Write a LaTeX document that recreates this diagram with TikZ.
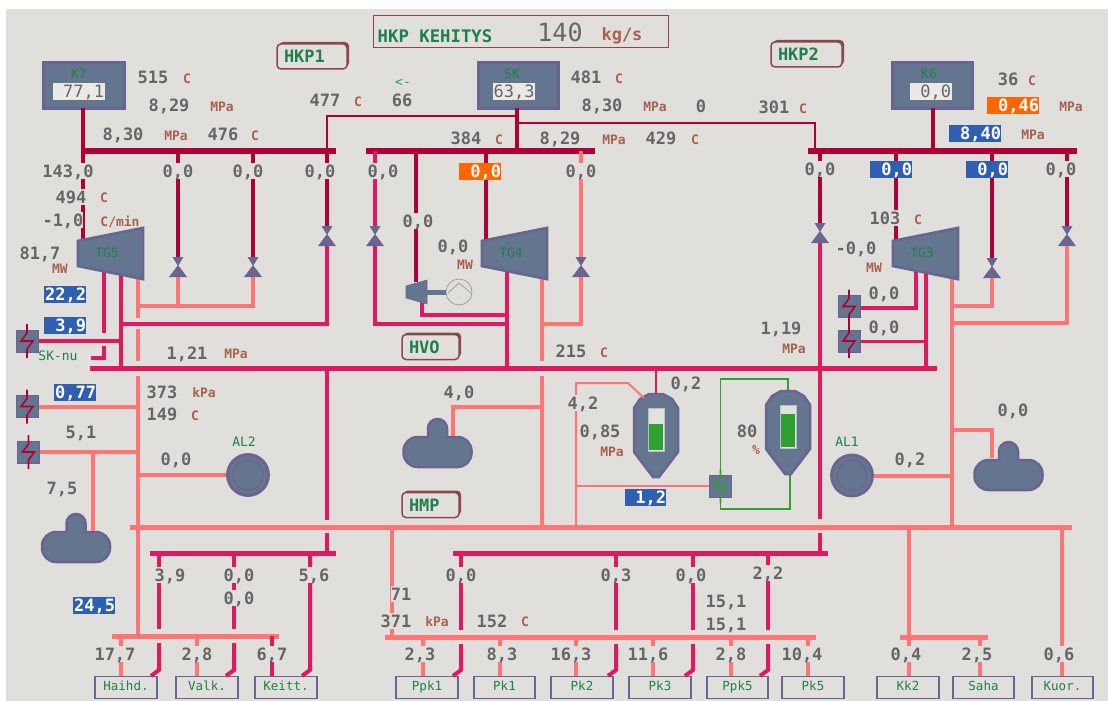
\documentclass[tikz,border=0pt]{standalone}
\usepackage{fontspec}
\setmainfont{DejaVu Sans Mono}
\usetikzlibrary{calc, shadows}
\definecolor{panel}{HTML}{E0DFDC}
\definecolor{hpred}{HTML}{B00038}
\definecolor{mpred}{HTML}{E0185F}
\definecolor{lpred}{HTML}{FF7575}
\definecolor{devfill}{HTML}{64768F}
\definecolor{devedge}{HTML}{6A6490}
\definecolor{valgray}{HTML}{666666}
\definecolor{unitbrown}{HTML}{A8614D}
\definecolor{namegreen}{HTML}{208048}
\definecolor{levelgreen}{HTML}{30A030}
\definecolor{flagblue}{HTML}{2E5FB0}
\definecolor{flagorange}{HTML}{FF6600}
\definecolor{tagedge}{HTML}{8B4650}
\tikzset{
  devname/.style={font=\fontsize{13}{14}\selectfont, text=namegreen, inner sep=0pt},
  turbine/.pic={
    \draw[devedge, fill=devfill, line width=2.8] (0,0) -- (65,-13) -- (65,38) -- (0,25) -- cycle;
    \node[devname] (-lab) at (29,12) {\tikzpictext};
  },
  heater/.pic={
    \node[fill=devfill, draw=devedge, line width=1, minimum size=22, inner sep=0pt] (-box) {};
    \draw[pic actions, line width=1.6] (0,-17) -- (0,-8) -- (-6,0) -- (6,0) -- (0,8) -- (0,17);
  },
  drum/.pic={
    \draw[devedge, fill=devfill, line width=2.5] (-9.5,18) [rounded corners=9.5] -- (-9.5,0) -- (9.5,0)
      [sharp corners] -- (9.5,18) [rounded corners=14] -- (34,18) -- (34,48) -- (-34,48) -- (-34,18)
      [sharp corners] -- cycle;
  },
  vessel/.pic={
    \draw[devedge, fill=devfill, line width=2.5] (-7,0) -- (7,0) -- (16,5) -- (22,14) -- (22,58) -- (3,83)
      -- (-3,83) -- (-22,58) -- (-22,14) -- (-16,5) -- cycle;
    \fill[panel!95!white, draw=panel!70!devfill] (-8,14) rectangle (8,57);
    \fill[levelgreen] (-7,#1) rectangle (7,56);
    \coordinate (-top) at (0,0);
    \coordinate (-tip) at (0,83);
  }
}
\begin{document}
\begin{tikzpicture}[
  x=1pt, y=-1pt,
  hdrh/.style={hpred, line width=5.5},
  hdrm/.style={mpred, line width=5},
  hdrl/.style={lpred, line width=5},
  hp/.style={hpred, line width=4},
  mp/.style={mpred, line width=4},
  lp/.style={lpred, line width=4},
  hpthin/.style={hpred, line width=1.8},
  mpthin/.style={mpred, line width=2},
  lpthin/.style={lpred, line width=2},
  valve/.style={minimum width=18, minimum height=20, inner sep=0pt, path picture={
    \fill[devedge, shift={(path picture bounding box.center)}]
      (-5.5,-10) -- (5.5,-10) -- (0,-1) -- cycle (-9,10) -- (9,10) -- (0,-2) -- cycle;}},
  val/.style={font=\fontsize{17}{18}\selectfont\bfseries, text=valgray, fill=panel,
    inner xsep=0pt, inner ysep=1pt, text height=13, text depth=1},
  flag/.style={font=\fontsize{17}{18}\selectfont\bfseries, text=white, inner sep=0pt,
    text width=#1, align=right, minimum height=17, text height=13, text depth=1},
  unit/.style={font=\fontsize{13}{14}\selectfont\bfseries, text=unitbrown, inner sep=0pt},
  boiler/.style={fill=devfill, draw=devedge, line width=3, minimum height=45, inner sep=0pt},
  readout/.style={fill=panel!70!white, font=\fontsize{17}{18}\selectfont, text=valgray,
    minimum height=17, text height=13, text depth=1, inner sep=0pt, align=right},
  tag/.style={draw=tagedge, fill=panel, line width=1.5, rounded corners=4, minimum height=25,
    inner xsep=7, inner ysep=0pt, align=left,
    font=\fontsize{17}{18}\selectfont\bfseries, text=namegreen,
    general shadow={fill=tagedge, shadow xshift=2, shadow yshift=-2}},
  unitbox/.style={draw=devedge, line width=1.2, minimum width=60, minimum height=22, inner sep=0pt,
    text height=9, text depth=3, font=\fontsize{12.5}{14}\selectfont, text=namegreen},
  pumpc/.style={circle, fill=devfill, draw=devedge, line width=2.8, minimum size=41, inner sep=0pt,
    path picture={\draw[devedge, line width=1.3] (path picture bounding box.center) circle (15);}}
]
\useasboundingbox (0,0) rectangle (1108,701);
\fill[panel] (6,9) rectangle (1108,701);
\node[draw=tagedge, line width=1.5, minimum width=295, minimum height=32, inner sep=0pt] (kehitys) at (521,31.5) {};
\node[font=\fontsize{17.3}{18}\selectfont\bfseries, text=namegreen, inner sep=0pt] (kehname) at (435,36) {HKP KEHITYS};
\node[font=\fontsize{25}{26}\selectfont, text=valgray, inner sep=0pt] (kehval) at (560,32) {140};
\node[font=\fontsize{17}{18}\selectfont\bfseries, text=unitbrown, inner sep=0pt] (kehunit) at (622,36) {kg/s};

\node[boiler, minimum width=81] (k7) at (84,85.5) {};
\node[boiler, minimum width=80] (sk) at (518.5,85.5) {};
\node[boiler, minimum width=80] (k6) at (932.5,85.5) {};

\draw[hpthin] (327,151) -- (327,116) -- (517,116);
\draw[hpthin] (517,123) -- (815,123) -- (815,151);
\draw[hdrh] (83,151) coordinate (hpa) -- (336,151);
\draw[hdrh] (366,151) coordinate (hpb) -- (595,151);
\draw[hdrh] (808,151) coordinate (hpc) -- (1077,151);
\draw[hdrm] (90,368) coordinate (mph) -- (937,368);
\draw[hdrl] (130,527) coordinate (lph) -- (1072,527);
\draw[hdrm] (150,553) coordinate (mpl) -- (336,553);
\draw[hdrm] (453,553) coordinate (mpr) -- (828,553);
\draw[hdrl] (112,636) coordinate (lpa) -- (279,636);
\draw[hdrl] (385,637) coordinate (lpb) -- (816,637);
\draw[hdrl] (900,637) coordinate (lpc) -- (988,637);

\draw[hp] (83,108) -- (83,240);
\draw[hp] (517,108) -- (517,151);
\draw[hp] (933,108) -- (933,151);

\foreach \i/\x/\y in {1/178/267, 2/253/267, 3/327/236, 4/375/236, 5/581/267, 6/820/233, 7/992/268, 8/1067/236}
  \node[valve] (v\i) at (\x,\y) {};

\foreach \i in {1,2,3,6,7,8}
  \draw[hp] (v\i.north |- hpa) -- (v\i.north);
\draw[mp] (v4.north |- hpb) -- (v4.north);
\draw[lp] (v5.north |- hpb) -- (v5.north);
\draw[lp] (v1.south) -- (v1.south |- 0,306);
\draw[lp] (138,306) -- (253,306) -- (v2.south);
\draw[mp] (v3.south) -- (327,324) -- (121,324);
\draw[mp] (v4.south) -- (375,324) -- (507,324);
\draw[lp] (v5.south) -- (581,324) -- (542,324);
\draw[mp] (v6.south) -- (820,519);
\draw[mp] (820,533) -- (820,553);
\draw[lp] (952,306) -- (992,306) -- (v7.south);
\draw[lp] (952,323) -- (1067,323) -- (v8.south);

\draw[hp] (486,151) -- (486,242);
\draw[hp] (416,151) -- (416,282);
\draw[hp] (896,151) -- (896,242);

\draw[mp] (104,270) -- (104,333);
\draw[mp] (104,346) -- (104,358) -- (91,358);
\draw[mp] (121,275) -- (121,368);
\draw[mp] (507,272) -- (507,368);
\draw[mp] (422,300) -- (422,315) -- (507,315);
\draw[mp] (327,368) -- (327,520);
\draw[mp] (327,533) -- (327,553);
\draw[mp] (916,268) -- (916,308) -- (860,308);
\draw[mp] (926,272) -- (926,368);

\draw[lp] (138,279) -- (138,318);
\draw[lp] (138,329) -- (138,361);
\draw[lp] (138,376) -- (138,636);
\draw[lp] (542,279) -- (542,361);
\draw[lp] (542,376) -- (542,527);
\draw[lp] (952,279) -- (952,527);

\pic[pic text=TG5] (tg5) at (78,241) {turbine};
\pic[pic text=TG4] (tg4) at (482,241) {turbine};
\pic[pic text=TG3] (tg3) at (893,241) {turbine};

\pic[draw=hpred] (hx1) at (27,341) {heater};
\pic[draw=hpred] (hx2) at (27,406.5) {heater};
\pic[draw=hpred] (hx3) at (28.5,452) {heater};
\pic[draw=hpred] (hx4) at (849,306.5) {heater};
\pic[draw=hpred] (hx5) at (849,341) {heater};
\draw[hpred, line width=1.6] (hx4-box) -- (hx5-box);
\draw[mp] (hx1-box.east) -- (121,341);
\draw[lp] (hx2-box.east) -- (138,406.5);
\draw[lp] (hx3-box.east) -- (138,452);
\draw[mpthin, line width=3] (hx5-box.east) -- (926,341);

\pic (drl) at (76,514) {drum};
\pic (drm) at (437.5,419) {drum};
\pic (drr) at (1008.5,442) {drum};
\draw[lp] (93,452) -- (93,531);
\draw[lp] (453,436) -- (453,407) -- (542,407);
\draw[lp] (992,458) -- (992,430) -- (952,430);

\node[pumpc] (al2) at (248,475) {};
\node[pumpc] (al1) at (852,475.5) {};
\draw[lp] (138,0 |- al2) -- (al2.west);
\draw[lp] (al1.east) -- (952,0 |- al1);

\fill[devfill, draw=devedge, line width=0.6] (406,286) -- (427,280) -- (427,304) -- (406,298) -- cycle;
\node[circle, draw=gray!80, line width=0.7, minimum size=26, inner sep=0pt] (pump) at (459,292) {};
\draw[gray!80, line width=0.7] (448,293) -- (459,283) -- (471,293);
\draw[devfill, line width=5] (427,292) -- (pump.west);

\draw[levelgreen, line width=1.6] (788,391) -- (788,379) -- (720.5,379) -- (720.5,509) -- (790,509) -- (790,473);
\pic (ves1) at (656,394) {vessel=30};
\pic (ves2) at (788,391) {vessel=23};
\draw[mpthin] (656,368) -- (ves1-top);
\draw[lpthin] (644,398) -- (628,383) -- (576,383) -- (576,527);
\pic[draw=levelgreen] (hx6) at (720.5,486) {heater};
\draw[lpthin] (576,0 |- hx6-box.west) -- (hx6-box.west);

\draw[lp] (392,527) -- (392,637);
\draw[lp] (909,527) -- (909,676);
\draw[lp] (1062,527) -- (1062,676);
\draw[lp] (980,637) -- (980,676);

\foreach \n/\x/\w/\lab/\s in {hai/126/62/Haihd./8, vlk/207/62/Valk./6, kei/286/62/Keitt./8,
    ppka/427/62/Ppk1/12, pka/504.5/61/Pk1/7, pkb/582/62/Pk2/10, pkc/660/62/Pk3/6,
    ppke/737.5/61/Ppk5/9, pke/813/62/Pk5/6, kkb/908/62/Kk2/8, sah/983.5/61/Saha/13, kuo/1062.5/61/Kuor./3}
  \node[unitbox, minimum width=\w] (\n) at (\x,687.5) {\lab\hspace{\s pt}};

\foreach \x/\b/\h in {120.5/hai/lpa, 197/vlk/lpa, 423/ppka/lpb, 500/pka/lpb, 576/pkb/lpb, 653/pkc/lpb, 731/ppke/lpb, 808/pke/lpb}
  \draw[lp] (\x,0 |- \h) -- (\x,0 |- \b.north);
\draw[mp] (272,636) -- (272,0 |- kei.north);

\foreach \x/\h/\e/\b in {159/mpl/636/hai, 234/mpl/636/vlk, 461/mpr/637/ppka, 616/mpr/637/pkb, 693/mpr/637/pkc, 768/mpr/637/ppke} {
  \draw[mp] (\x,0 |- \h) -- (\x,\e-7);
  \draw[mp] (\x,\e+7) -- (\x,670) -- (\x-8,0 |- \b.north);
}
\draw[mp] (310,0 |- mpl) -- (310,670) -- (302,0 |- kei.north);

\foreach \x/\y/\lab [count=\i] in {153/77/515, 169/105/{8,29}, 123/134/{8,30}, 223/134/476, 68/171/{143,0},
    178/171/{0,0}, 248/171/{0,0}, 320/171/{0,0}, 71/197/494, 63/220/{-1,0}, 325/100/477, 402/100/66,
    586/77/481, 602/105/{8,30}, 701/106/0, 466/138/384, 560/138/{8,29}, 661/138/429, 383/171/{0,0},
    581/171/{0,0}, 418/221/{0,0}, 453/246/{0,0}, 40/253/{81,7}, 187/353/{1,21}, 162/392/373, 162/414/149,
    81/432/{5,1}, 176/459/{0,0}, 62/488/{7,5}, 571/351/215, 459/392/{4,0}, 686/383/{0,2}, 583/403/{4,2},
    600/431/{0,85}, 747/431/80, 774/107/301, 1008/79/36, 820/169/{0,0}, 1061/169/{0,0}, 885/218/103,
    856/248/{-0,0}, 884/293/{0,0}, 884/327/{0,0}, 781/328/{1,19}, 1013/410/{0,0}, 910/459/{0,2},
    170/575/{3,9}, 239/575/{0,0}, 239/598/{0,0}, 314/575/{5,6}, 461/575/{0,0}, 616/575/{0,3}, 691/575/{0,0},
    768/573/{2,2}, 401/594/71, 396/621/371, 492/621/152, 726/601/{15,1}, 726/624/{15,1},
    115/654/{17,7}, 197/654/{2,8}, 272/654/{6,7}, 420/654/{2,3}, 502/654/{8,3}, 571/654/{16,3}, 648/654/{11,6},
    731/654/{2,8}, 802/654/{10,4}, 906/654/{0,4}, 977/654/{2,5}, 1059/654/{0,6}}
  \node[val] (val\i) at (\x,\y) {\lab};

\foreach \x/\y/\w/\c/\lab [count=\i] in {65/294.5/42/flagblue/{22,2}, 65/325.5/42/flagblue/{3,9}, 75/392.5/42/flagblue/{0,77},
    94/605.5/42/flagblue/{24,5}, 480/171.5/42/flagorange/{0,0}, 645.5/497.5/41/flagblue/{1,2}, 1013/105.5/52/flagorange/{0,46},
    975/133.5/52/flagblue/{8,40}, 891/169.5/42/flagblue/{0,0}, 987/169.5/42/flagblue/{0,0}}
  \node[flag=\w, fill=\c] (flg\i) at (\x,\y) {\lab};

\foreach \x/\y/\lab [count=\i] in {187/79/C, 222/107/MPa, 176/136/MPa, 255/136/C, 104/198/C, 120/222/{C/min}, 358/102/C, 60/269/MW,
    236/354/MPa, 204/393/kPa, 195/416/C, 619/79/C, 655/107/MPa, 499/140/C, 614/140/MPa, 695/140/C, 465/265/MW, 604/353/C,
    612/452/MPa, 756/450/\%, 803/109/C, 1032/81/C, 1071/107/MPa, 1033/135/MPa, 918/220/C, 874/268/MW, 794/349/MPa,
    437/622/kPa, 525/622/C}
  \node[unit] (unt\i) at (\x,\y) {\lab};

\node[devname] (sknu) at (58,356) {SK-nu};
\node[devname] (al2n) at (244,442) {AL2};
\node[devname] (al1n) at (847,442) {AL1};
\node[devname, levelgreen] (back) at (403,83) {<-};
\node[devname] (k7n) at (79,74) {K7};
\node[devname] (skn) at (512,74) {SK};
\node[devname] (k6n) at (929,74) {K6};
\node[readout, minimum width=52, text width=50] (k7v) at (79,91.5) {77,1};
\node[readout, minimum width=42, text width=41] (skv) at (514,91.5) {63,3};
\node[readout, minimum width=42, text width=40] (k6v) at (931,91.5) {0,0};

\node[tag, text width=56] (hkpa) at (312,56.5) {HKP1};
\node[tag, text width=57] (hkpb) at (806.5,54.5) {HKP2};
\node[tag, text width=43] (hvo) at (430.5,347) {HVO};
\node[tag, text width=43] (hmp) at (430.5,505) {HMP};
\end{tikzpicture}
\end{document}
